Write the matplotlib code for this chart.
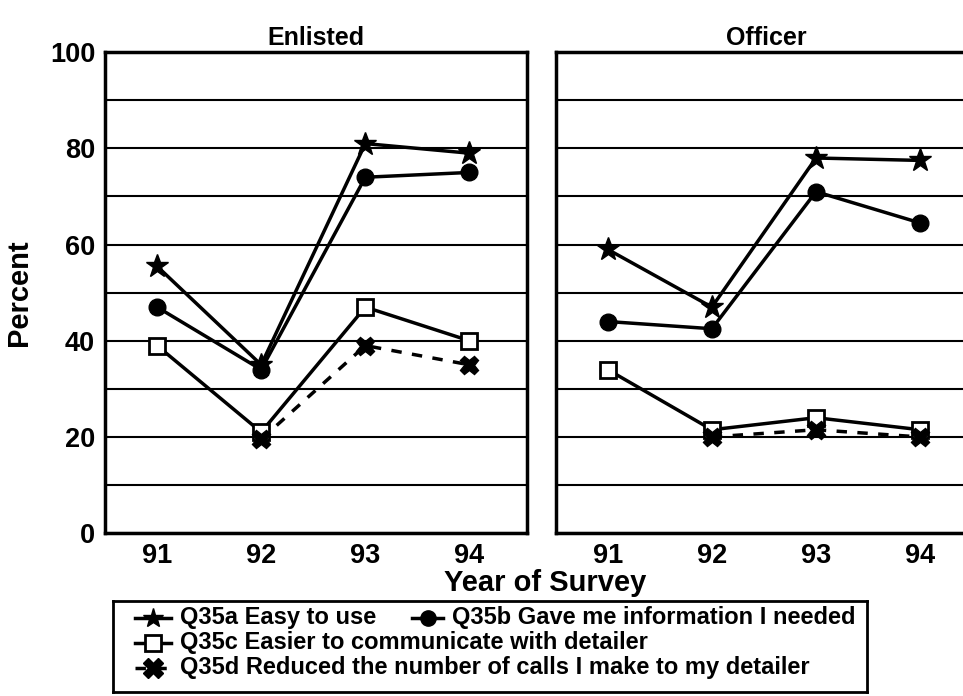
import numpy as np
import matplotlib
matplotlib.use("Agg")
import matplotlib.pyplot as plt

plt.rcParams['font.family'] = ['Liberation Sans', 'DejaVu Sans']

years = [91, 92, 93, 94]

# Enlisted
enl_a = [55.5, 35, 81, 79]
enl_b = [47, 34, 74, 75]
enl_c = [39, 21, 47, 40]
enl_d = [np.nan, 19.5, 39, 35]

# Officer
off_a = [59, 47, 78, 77.5]
off_b = [44, 42.5, 71, 64.5]
off_c = [34, 21.5, 24, 21.5]
off_d = [np.nan, 20, 21.5, 20]

labels = ['Q35a Easy to use',
          'Q35b Gave me information I needed',
          'Q35c Easier to communicate with detailer',
          'Q35d Reduced the number of calls I make to my detailer']

styles = [
    dict(marker='*', ms=17, mfc='black', mec='black', ls='-'),
    dict(marker='o', ms=12, mfc='black', mec='black', ls='-'),
    dict(marker='s', ms=11, mfc='white', mec='black', mew=2, ls='-'),
    dict(marker='X', ms=13, mfc='black', mec='black', ls=(0, (3, 3))),
]

fig = plt.figure(figsize=(9.63, 6.96), dpi=100)
ax1 = fig.add_axes([0.109, 0.234, 0.438, 0.691])
ax2 = fig.add_axes([0.577, 0.234, 0.438, 0.691])

for ax, name, series in [(ax1, 'Enlisted', [enl_a, enl_b, enl_c, enl_d]),
                         (ax2, 'Officer', [off_a, off_b, off_c, off_d])]:
    for vals, st in zip(series, styles):
        ax.plot(years, vals, color='black', lw=2.5, zorder=3, **st)
    ax.set_xlim(90.5, 94.55)
    ax.set_ylim(0, 100)
    ax.set_yticks(range(0, 101, 10))
    ax.yaxis.grid(True, color='black', lw=1.5)
    ax.set_axisbelow(True)
    ax.set_xticks(years)
    ax.set_xticklabels([str(y) for y in years], fontsize=19.5, fontweight='bold')
    ax.tick_params(length=0, pad=7)
    for sp in ax.spines.values():
        sp.set_linewidth(2.5)
    ax.set_title(name, fontsize=18, fontweight='bold', pad=5)

ax1.set_yticklabels([str(v) if v % 20 == 0 else '' for v in range(0, 101, 10)],
                    fontsize=19.5, fontweight='bold')
ax2.set_yticklabels([])
ax1.set_ylabel('Percent', fontsize=21, fontweight='bold', labelpad=12)

fig.text(0.566, 0.162, 'Year of Survey', ha='center', va='center',
         fontsize=21, fontweight='bold')

# legend box
lax = fig.add_axes([0.1173, 0.006, 0.783, 0.131])
lax.set_xlim(0, 1)
lax.set_ylim(0, 1)
lax.set_xticks([])
lax.set_yticks([])
for sp in lax.spines.values():
    sp.set_linewidth(2)
rows = [(0.029, 0.813), (0.397, 0.813), (0.029, 0.538), (0.029, 0.264)]
leg_ms = [15, 11, 11, 14]
for (x0, y0), st, lab, ms in zip(rows, styles, labels, leg_ms):
    s = dict(st)
    s['ms'] = ms
    w = 0.048 if x0 < 0.1 else 0.041
    lax.plot([x0, x0 + w / 2, x0 + w], [y0, y0, y0], color='black', lw=2.5,
             markevery=[1], **s)
    lax.text(x0 + w + 0.012, y0, lab, va='center', ha='left',
             fontsize=17, fontweight='bold')

fig.savefig('out.png', dpi=100)
